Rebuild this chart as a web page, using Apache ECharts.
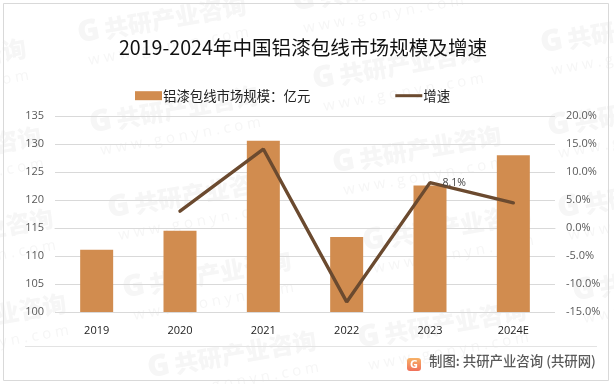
<!DOCTYPE html>
<html><head><meta charset="utf-8">
<style>html,body{margin:0;padding:0;background:#fff}#c{width:614px;height:384px}</style>
<script src="https://cdn.jsdelivr.net/npm/echarts@6/dist/echarts.min.js"></script>
</head><body><div id="c"></div>
<script>
const categories = ['2019','2020','2021','2022','2023','2024E'];
const marketSize = [111.1,114.5,130.6,113.4,122.6,128.0];
const growthRate = [null,3.0,14.1,-13.2,8.1,4.5];
const titleText = '2019-2024年中国铝漆包线市场规模及增速';
const sizeName = '铝漆包线市场规模：亿元';
const growthName = '增速';
const sourceText = '制图: 共研产业咨询 (共研网)';
const wmAnchors = [[80,47],[92,137],[110,222],[125,302],[150,382],[295,15],[315,93],[335,177],[365,255],[360,352],
  [543,57],[550,140],[560,222],[575,305],[-140,90],[-125,178],[-113,260],[-100,345]];
const font = '"Noto Sans CJK SC","Noto Sans",sans-serif';
const latin = '"Open Sans","Noto Sans CJK SC",sans-serif';
const wmColor = '#f6f6f6';

const wm = wmAnchors.map(([x,y]) => ({
  type:'group', x, y, rotation:10*Math.PI/180, silent:true, z:-10,
  children:[
    {type:'text',style:{x:0,y:-13,text:'G',font:'900 30px '+latin,fill:wmColor,verticalAlign:'middle'}},
    {type:'text',style:{x:27,y:-13,text:'共研产业咨询',font:'900 24px '+font,fill:wmColor,verticalAlign:'middle'}},
    {type:'text',style:{x:6,y:15,text:'w w w . g o n y n . c o m',font:'15px '+latin,fill:wmColor,verticalAlign:'middle'}}
  ]
}));

const chart = echarts.init(document.getElementById('c'),null,{renderer:'canvas'});
chart.setOption({
  animation:false,
  backgroundColor:'#fff',
  title:{text:titleText,left:119,top:38,padding:0,textStyle:{fontFamily:font,fontSize:19.6,fontWeight:'normal',color:'#111'}},
  legend:{left:135,top:89,padding:0,itemGap:85,itemWidth:27,itemHeight:9,
    textStyle:{fontFamily:font,fontSize:13.4,color:'#222',padding:[0,0,0,-4]},
    data:[{name:sizeName,icon:'rect'},
      {name:growthName,icon:'path://M0,0L0,0M27,9L27,9M0,3H27V6H0Z',itemStyle:{color:'#6b4a2f'}}]},
  grid:{left:55,right:59,top:116,height:196,containLabel:false},
  xAxis:{type:'category',data:categories,
    axisLine:{lineStyle:{color:'#d9d9d9',width:1}},axisTick:{show:false},
    axisLabel:{margin:13,fontFamily:latin,fontSize:11,color:'#222'}},
  yAxis:[
    {type:'value',min:100,max:135,interval:5,
     axisLine:{show:false},axisTick:{show:false},
     splitLine:{lineStyle:{color:'#d9d9d9',width:1}},
     axisLabel:{margin:11,fontFamily:latin,fontSize:11,color:'#595959'}},
    {type:'value',min:-15,max:20,interval:5,position:'right',
     axisLine:{show:false},axisTick:{show:false},splitLine:{show:false},
     axisLabel:{margin:11,fontFamily:latin,fontSize:11,color:'#595959',align:'left',
       formatter:v=>v.toFixed(1)+'%'}}
  ],
  series:[
    {name:sizeName,type:'bar',data:marketSize,barWidth:33,
     itemStyle:{color:'#d18c4f'}},
    {name:growthName,type:'line',yAxisIndex:1,symbol:'none',connectNulls:false,
     lineStyle:{color:'#6b4a2f',width:3.4,cap:'round'},itemStyle:{color:'#6b4a2f'},
     data:growthRate.map((v,i)=> i===4 ? {value:v,symbol:'circle',symbolSize:1,label:{show:true,position:'right',distance:0,offset:[12,0],
        formatter:p=>p.value.toFixed(1)+'%',fontFamily:latin,fontSize:10.5,color:'#444'}} : v)}
  ],
  graphic:{elements:[
    ...wm,
    {type:'rect',shape:{x:3.5,y:3.5,width:605,height:377},style:{fill:'none',stroke:'#d9d9d9',lineWidth:1},silent:true},
    {type:'line',shape:{x1:25,y1:346.5,x2:597,y2:346.5},style:{stroke:'#e3e3e3',lineWidth:1},silent:true},
    {type:'rect',shape:{x:407,y:358,width:14,height:13,r:3},silent:true,
     style:{fill:new echarts.graphic.LinearGradient(0,0,0,1,[{offset:0,color:'#f7b267'},{offset:1,color:'#f0705a'}])}},
    {type:'text',silent:true,style:{x:414,y:365,text:'G',font:'bold 11px '+latin,fill:'#fff',align:'center',verticalAlign:'middle'}},
    {type:'text',silent:true,style:{x:429,y:361,text:sourceText,font:'500 13.4px '+font,fill:'#595959',verticalAlign:'middle'}}
  ]}
});
</script></body></html>
